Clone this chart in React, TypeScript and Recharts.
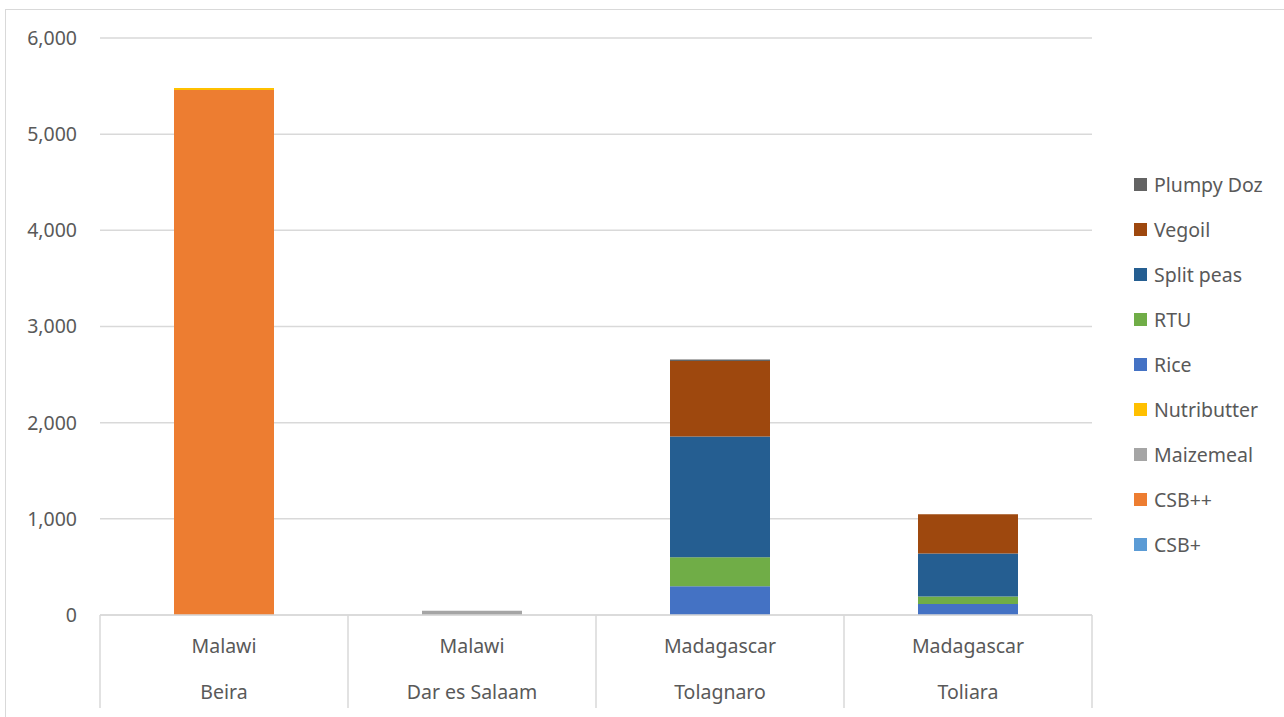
import { BarChart, Bar, XAxis, YAxis, CartesianGrid, Legend } from 'recharts'

const countries = ['Malawi', 'Malawi', 'Madagascar', 'Madagascar']
const ports = ['Beira', 'Dar es Salaam', 'Tolagnaro', 'Toliara']

const csbPlus = [0, 0, 0, 0]
const csbPlusPlus = [5460, 0, 0, 0]
const maizemeal = [0, 45, 0, 0]
const nutributter = [20, 0, 0, 0]
const rice = [0, 0, 300, 115]
const rtu = [0, 0, 300, 77]
const splitPeas = [0, 0, 1255, 447]
const vegoil = [0, 0, 786, 409]
const plumpyDoz = [0, 0, 15, 0]

const yTicks = [0, 1000, 2000, 3000, 4000, 5000, 6000]

// bottom to top stacking order
const series = [
  { key: 'CSB+', values: csbPlus, color: '#5b9bd5' },
  { key: 'CSB++', values: csbPlusPlus, color: '#ed7d31' },
  { key: 'Maizemeal', values: maizemeal, color: '#a5a5a5' },
  { key: 'Nutributter', values: nutributter, color: '#ffc000' },
  { key: 'Rice', values: rice, color: '#4472c4' },
  { key: 'RTU', values: rtu, color: '#70ad47' },
  { key: 'Split peas', values: splitPeas, color: '#255e91' },
  { key: 'Vegoil', values: vegoil, color: '#9e480e' },
  { key: 'Plumpy Doz', values: plumpyDoz, color: '#636363' },
]

const data = ports.map((p, i) => {
  const row: Record<string, string | number> = { port: p, country: countries[i] }
  series.forEach(s => { row[s.key] = s.values[i] })
  return row
})

const FONT = '"Noto Sans", sans-serif'
const TEXT = '#595959'
const LINE = '#d9d9d9'
const FS = 19.5

function TwoRowTick(props: any) {
  const { x, y, payload, index, width, visibleTicksCount } = props
  const band = (width || 992) / (visibleTicksCount || ports.length)
  const left = x - band / 2
  const right = x + band / 2
  return (
    <g>
      {index === 0 && <line x1={left} x2={left} y1={y} y2={y + 93} stroke={LINE} strokeWidth={1.5} />}
      <line x1={right} x2={right} y1={y} y2={y + 93} stroke={LINE} strokeWidth={1.5} />
      <text x={x} y={y + 38} textAnchor="middle" fill={TEXT} fontSize={FS} fontFamily={FONT}>
        {countries[index]}
      </text>
      <text x={x} y={y + 84} textAnchor="middle" fill={TEXT} fontSize={FS} fontFamily={FONT}>
        {payload.value}
      </text>
    </g>
  )
}

function LegendList() {
  return (
    <div style={{ fontFamily: FONT, fontSize: FS, color: TEXT }}>
      {[...series].reverse().map(s => (
        <div key={s.key} style={{ display: 'flex', alignItems: 'center', height: 45 }}>
          <span style={{ width: 13, height: 13, background: s.color, marginRight: 7, display: 'inline-block' }} />
          <span>{s.key}</span>
        </div>
      ))}
    </div>
  )
}

export default function App() {
  return (
    <div style={{ position: 'absolute', left: 0, top: 0, width: 1284, height: 717, background: '#fff', overflow: 'hidden' }}>
      <div style={{ position: 'absolute', left: 5, top: 9, width: 1300, height: 730, borderTop: `1.5px solid ${LINE}`, borderLeft: `1.5px solid ${LINE}` }} />
      <BarChart
        width={1284}
        height={717}
        data={data}
        margin={{ top: 38, right: 42, left: 0, bottom: 0 }}
        barSize={100}
        style={{ position: 'absolute', left: 0, top: 0 }}
      >
        <CartesianGrid vertical={false} stroke={LINE} strokeWidth={1.5} />
        <XAxis
          dataKey="port"
          height={102}
          axisLine={{ stroke: LINE, strokeWidth: 1.5 }}
          tickLine={false}
          tickSize={0}
          tickMargin={0}
          interval={0}
          tick={<TwoRowTick />}
        />
        <YAxis
          width={100}
          domain={[0, 6000]}
          ticks={yTicks}
          axisLine={false}
          tickLine={false}
          tickSize={0}
          tickMargin={23}
          tickFormatter={(v: number) => v.toLocaleString('en-US')}
          tick={{ fill: TEXT, fontSize: FS, fontFamily: FONT }}
        />
        <Legend
          layout="vertical"
          align="right"
          verticalAlign="top"
          content={<LegendList />}
          wrapperStyle={{ left: 1134, top: 162, width: 150 }}
        />
        {series.map(s => (
          <Bar key={s.key} dataKey={s.key} stackId="a" fill={s.color} isAnimationActive={false} />
        ))}
      </BarChart>
    </div>
  )
}
